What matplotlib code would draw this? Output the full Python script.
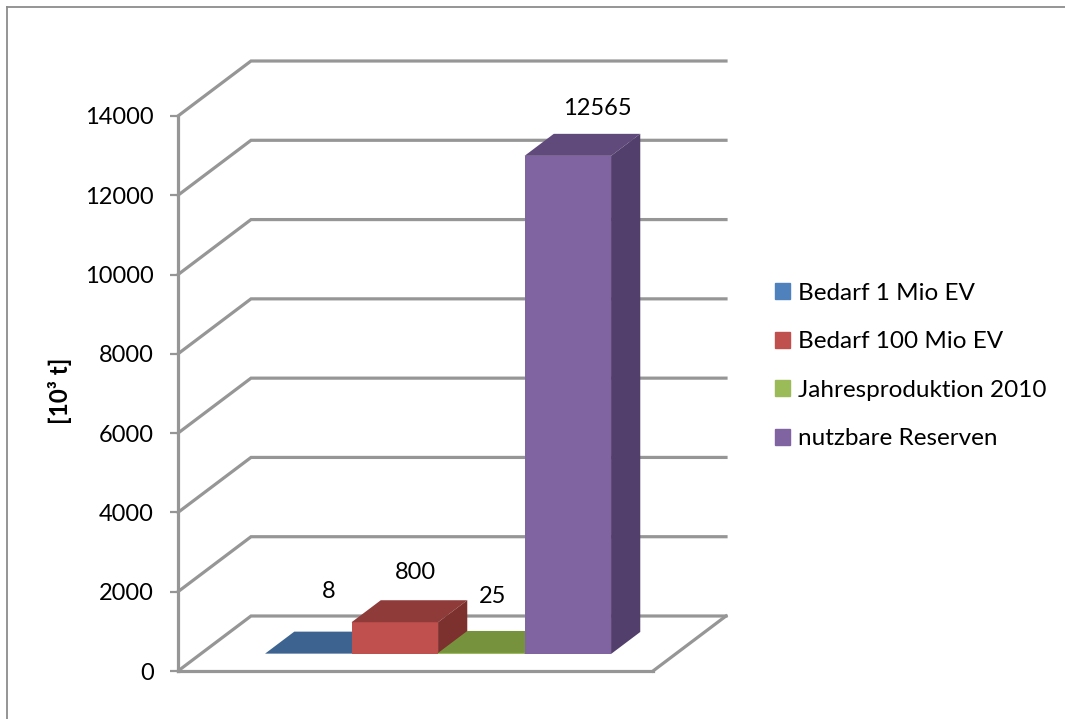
#importing needed libraries
import matplotlib
matplotlib.use("Agg")
import matplotlib.pyplot as plt
from matplotlib.patches import Patch, Polygon
from matplotlib.lines import Line2D

plt.rcParams['font.family'] = ['Lato', 'DejaVu Sans']

#the chart data
categories = ["Bedarf 1 Mio EV", "Bedarf 100 Mio EV", "Jahresproduktion 2010", "nutzbare Reserven"]
values = [8, 800, 25, 12565]
y_ticks = [0, 2000, 4000, 6000, 8000, 10000, 12000, 14000]

#colours of every series: front, top, side
front_colors = ["#4F81BD", "#C0504D", "#9BBB59", "#8064A2"]
top_colors = ["#3D6491", "#8F3B39", "#76923C", "#604A7B"]
side_colors = ["#355780", "#7C312F", "#65803A", "#533F6B"]
legend_colors = ["#4F81BD", "#C0504D", "#9BBB59", "#8064A2"]

#where the value labels sit relative to the bar top, in pixels
label_shift = [(20, 62), (21, 50), (11, 56), (30, 47)]

grid_color = "#969696"
W, H = 1065, 719
px = 72 / 100  #one pixel in points

fig = plt.figure(figsize=(W / 100, H / 100), dpi=100)
#the axes is the front plane of the fake 3d box
ax = fig.add_axes([178 / W, 1 - 671 / H, 475 / W, 555 / H])
ax.set_ylim(0, 14000)
ax.set_xlim(0, 475 / 86.5)

#how far the back wall is shifted from the front plane, in data units
depth_x = 73 / 86.5
depth_y = 55 / 555 * 14000

def project(x, y, d):
    return (x + d * depth_x, y + d * depth_y)

#walls and floor
xmax = ax.get_xlim()[1]
for t in y_ticks:
    a = project(0, t, 0)
    b = project(0, t, 1)
    c = project(xmax, t, 1)
    ax.plot([a[0], b[0], c[0]], [a[1], b[1], c[1]], color=grid_color, lw=2.3, clip_on=False,
            solid_joinstyle="miter", zorder=1)
r = project(xmax, 0, 1)
ax.plot([xmax, r[0]], [0, r[1]], color=grid_color, lw=2.3, clip_on=False, zorder=1)

#bars, the front face goes through ax.bar and the other two faces are projected from it
d0, d1 = 0.31, 0.71
x_start = 0.745
for i, v in enumerate(values):
    x0 = x_start + i
    x1 = x0 + 1
    base = d0 * depth_y
    ax.bar(x0 + d0 * depth_x, v, width=1, bottom=base, align="edge", color=front_colors[i], clip_on=False, zorder=3 + i)
    top = [project(x0, v, d0), project(x1, v, d0), project(x1, v, d1), project(x0, v, d1)]
    side = [project(x1, 0, d0), project(x1, v, d0), project(x1, v, d1), project(x1, 0, d1)]
    ax.add_patch(Polygon(top, color=top_colors[i], lw=0, clip_on=False, zorder=3 + i))
    ax.add_patch(Polygon(side, color=side_colors[i], lw=0, clip_on=False, zorder=3 + i))
    #value label
    fx, fy = project(x0 + 0.5, v, d0)
    ax.annotate(str(v), (fx, fy), xytext=(label_shift[i][0] * px, label_shift[i][1] * px),
                textcoords="offset points", ha="center", va="center", fontsize=17, color="black", zorder=10)

#axis styling
for s in ["top", "right"]:
    ax.spines[s].set_visible(False)
for s in ["left", "bottom"]:
    ax.spines[s].set_color(grid_color)
    ax.spines[s].set_linewidth(2.3)
ax.patch.set_alpha(0)
ax.set_xticks([])
ax.set_yticks(y_ticks)
ax.tick_params(axis="y", length=5.5, width=1.6, color=grid_color, pad=12, labelsize=17)
ax.set_ylabel("[10³ t]", fontsize=17.5, fontweight="bold")
ax.yaxis.set_label_coords((72 - 178) / 475, 1 - (391 - 116) / 555)

#legend
handles = [Patch(color=c, label=n) for c, n in zip(legend_colors, categories)]
fig.legend(handles=handles, loc="center left", bbox_to_anchor=(753 / W, 1 - 366 / H), frameon=False,
           fontsize=17.5, handlelength=0.62, handleheight=0.62, handletextpad=0.33, labelspacing=1.13)

#outer frame of the chart, only the top and left edges are in the picture
fig.add_artist(Line2D([7 / W, 7 / W], [0, 1 - 7 / H], color="#8c8c8c", lw=1.3))
fig.add_artist(Line2D([7 / W, 1], [1 - 7 / H, 1 - 7 / H], color="#8c8c8c", lw=1.3))

plt.savefig("out.png", dpi=100)
